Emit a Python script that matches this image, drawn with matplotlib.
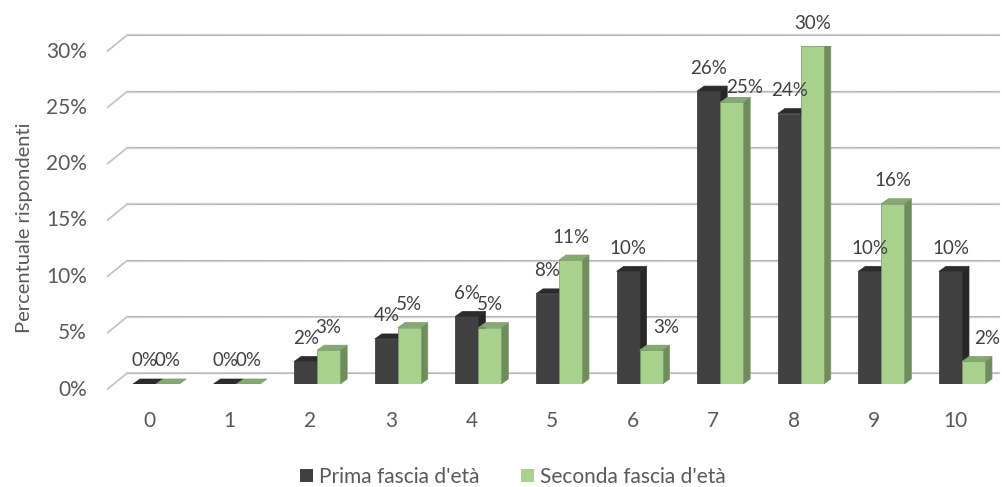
import matplotlib
matplotlib.use("Agg")
import matplotlib.pyplot as plt
from matplotlib.patches import Polygon, Patch

plt.rcParams['font.family'] = ['Lato', 'DejaVu Sans']

# Data
categories = ['0', '1', '2', '3', '4', '5', '6', '7', '8', '9', '10']
prima = [0, 0, 2, 4, 6, 8, 10, 26, 24, 10, 10]
seconda = [0, 0, 3, 5, 5, 11, 3, 25, 30, 16, 2]
series_names = ["Prima fascia d'età", "Seconda fascia d'età"]
y_ticks = [0, 5, 10, 15, 20, 25, 30]

# Styling
W, H, DPI = 1002, 487, 100
TXT = '#595959'
LBL = '#404040'
colors = {
    'prima': {'front': '#404040', 'top': '#2b2b2b', 'side': '#262626', 'edge': '#303030'},
    'seconda': {'front': '#a9d18e', 'top': '#86a872', 'side': '#6e8c5c', 'edge': '#7d9a68'},
}

fig = plt.figure(figsize=(W / DPI, H / DPI), dpi=DPI)
# axes placed so data coordinates line up with the bar front faces
ax_left, ax_right = 108.7, 995.3
ax_bottom, ax_top = 384, 46
ax = fig.add_axes([ax_left / W, (H - ax_bottom) / H,
                   (ax_right - ax_left) / W, (ax_bottom - ax_top) / H])
ax.set_xlim(-0.5, 10.5)
ax.set_ylim(0, 30)
ax.axis('off')

px_x = (ax_right - ax_left) / 11.0   # pixels per category
px_y = (ax_bottom - ax_top) / 30.0   # pixels per percent

def ux(p):
    return p / px_x

def uy(p):
    return p / px_y

# 3D look parameters (pixels)
depth_dx, depth_dy = 7, 5
bar_w = ux(23)
shift = ux(7)
wall_dy = uy(10.8)
front_dy = uy(5.5)
wall_x0 = ux(127 - 149)
front_x0 = ux(107 - 149)

# back-wall gridlines with the slanted floor/side edge
for v in y_ticks:
    ax.plot([front_x0, wall_x0], [v - front_dy, v + wall_dy], color='#c4c4c4',
            lw=1.3, clip_on=False, zorder=1, solid_capstyle='butt')
    ax.plot([wall_x0, 10.55], [v + wall_dy, v + wall_dy], color='#d0d0d0',
            lw=1.6, clip_on=False, zorder=1)
    ax.plot([wall_x0, 10.55], [v + wall_dy + uy(0.6), v + wall_dy + uy(0.6)],
            color='#9a9a9a', lw=0.6, ls=(0, (1, 1)), clip_on=False, zorder=1)
    ax.text(front_x0 - ux(20), v - front_dy, f'{v}%', ha='right', va='center',
            fontsize=15, color=TXT)

def draw_bar(x0, h, c, z):
    dx, dy = ux(depth_dx), uy(depth_dy)
    x1 = x0 + bar_w
    front = Polygon([(x0, 0), (x1, 0), (x1, h), (x0, h)], closed=True,
                    fc=c['front'], ec=c['edge'], lw=0.5, zorder=z)
    top = Polygon([(x0, h), (x1, h), (x1 + dx, h + dy), (x0 + dx, h + dy)], closed=True,
                  fc=c['top'], ec=c['edge'], lw=0.5, zorder=z)
    side = Polygon([(x1, 0), (x1 + dx, dy), (x1 + dx, h + dy), (x1, h)], closed=True,
                   fc=c['side'], ec=c['edge'], lw=0.5, zorder=z)
    for p in (side, top, front):
        ax.add_patch(p)

# labels Excel pushed aside to avoid the neighbouring bar (pixels)
label_nudge = {('seconda', 6): (15, 0), ('seconda', 7): (13, -8), ('seconda', 10): (14, 0)}

for i, cat in enumerate(categories):
    center = i + shift
    for j, (key, vals) in enumerate((('prima', prima), ('seconda', seconda))):
        x0 = center - bar_w if j == 0 else center
        draw_bar(x0, vals[i], colors[key], 3 + j + i * 2)
        nx, ny = label_nudge.get((key, i), (0, 0))
        ax.text(x0 + bar_w / 2 + ux(nx), vals[i] + uy(23 + ny), f'{vals[i]}%',
                ha='center', va='center', fontsize=13.5, color=LBL, zorder=30)
    ax.text(i, uy(-37), cat, ha='center', va='center', fontsize=15, color=TXT)

fig.text(25 / W, 1 - 228 / H, 'Percentuale rispondenti', rotation=90,
         ha='center', va='center', fontsize=14.5, color=TXT)

handles = [Patch(fc=colors['prima']['front']), Patch(fc=colors['seconda']['front'])]
fig.legend(handles, series_names, loc='center', bbox_to_anchor=(513 / W, 1 - 477 / H),
           ncol=2, frameon=False, fontsize=15, labelcolor=TXT, handlelength=0.6,
           handleheight=0.6, handletextpad=0.3, columnspacing=2.0)

fig.savefig('out.png', dpi=DPI)
